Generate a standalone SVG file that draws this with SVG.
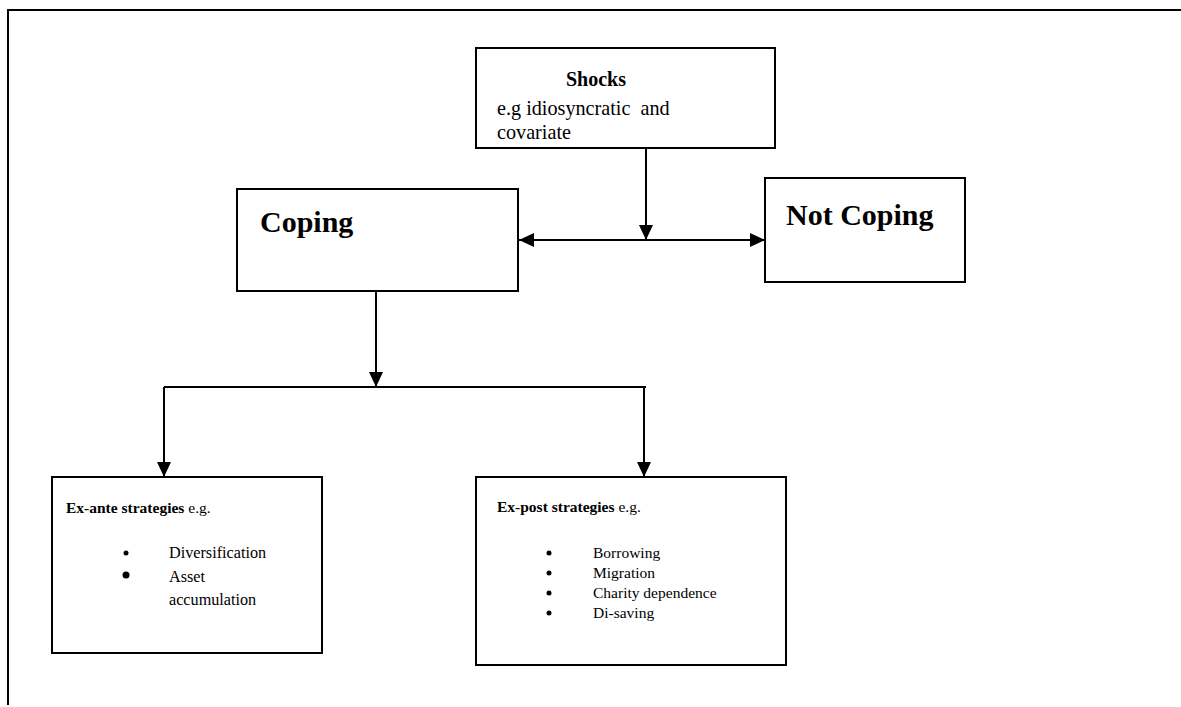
<svg xmlns="http://www.w3.org/2000/svg" width="1181" height="707" viewBox="0 0 1181 707">
<style>
.box{fill:#fff;stroke:#000;stroke-width:2}
.ln{fill:none;stroke:#000;stroke-width:2}
.t{font-family:"Liberation Serif","Times New Roman",serif;fill:#000}
.b{font-weight:bold}
</style>
<defs>
<marker id="ah" markerUnits="userSpaceOnUse" markerWidth="16" markerHeight="16" refX="15" refY="7" orient="auto">
<path d="M0,0 L15,7 L0,14 Z" fill="#000"/>
</marker>
</defs>
<rect width="1181" height="707" fill="#fff"/>
<path class="ln" d="M8,705 V10 H1181"/>
<g id="connectors">
<path class="ln" d="M646,148 V240" marker-end="url(#ah)"/>
<path class="ln" d="M646,240 H519" marker-end="url(#ah)"/>
<path class="ln" d="M646,240 H765" marker-end="url(#ah)"/>
<path class="ln" d="M376,291 V387" marker-end="url(#ah)"/>
<path class="ln" d="M164,387 H646"/>
<path class="ln" d="M164,387 V477" marker-end="url(#ah)"/>
<path class="ln" d="M644,387 V477" marker-end="url(#ah)"/>
</g>
<g id="shocks">
<rect class="box" x="476" y="48" width="299" height="100"/>
<text class="t b" x="596" y="86" font-size="20" text-anchor="middle">Shocks</text>
<text class="t" x="497" y="115" font-size="20.2" xml:space="preserve">e.g idiosyncratic  and</text>
<text class="t" x="497" y="139" font-size="20.2">covariate</text>
</g>
<g id="coping">
<rect class="box" x="237" y="189" width="281" height="102"/>
<text class="t b" x="260" y="232" font-size="30">Coping</text>
</g>
<g id="notcoping">
<rect class="box" x="765" y="178" width="200" height="104"/>
<text class="t b" x="786" y="225" font-size="30">Not Coping</text>
</g>
<g id="exante">
<rect class="box" x="52" y="477" width="270" height="176"/>
<text class="t" x="66" y="513" font-size="15.5"><tspan font-weight="bold">Ex-ante strategies</tspan> e.g.</text>
<circle cx="126" cy="553" r="2.5"/>
<text class="t" x="169" y="558" font-size="16.2">Diversification</text>
<circle cx="126" cy="575" r="3.5"/>
<text class="t" x="169" y="582" font-size="16.2">Asset</text>
<text class="t" x="169" y="605" font-size="16.2">accumulation</text>
</g>
<g id="expost">
<rect class="box" x="476" y="477" width="310" height="188"/>
<text class="t" x="497" y="512" font-size="15.5"><tspan font-weight="bold">Ex-post strategies</tspan> e.g.</text>
<circle cx="549" cy="553" r="2.5"/>
<text class="t" x="593" y="558" font-size="15.5">Borrowing</text>
<circle cx="549" cy="573" r="2.5"/>
<text class="t" x="593" y="578" font-size="15.5">Migration</text>
<circle cx="549" cy="593" r="2.5"/>
<text class="t" x="593" y="598" font-size="15.5">Charity dependence</text>
<circle cx="549" cy="613" r="2.5"/>
<text class="t" x="593" y="618" font-size="15.5">Di-saving</text>
</g>
</svg>
